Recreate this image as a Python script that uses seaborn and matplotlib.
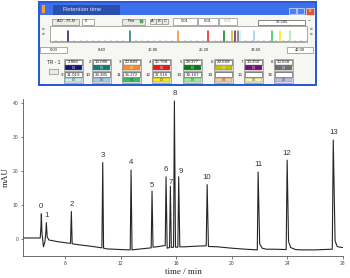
import pandas as pd
import matplotlib
matplotlib.use('Agg')
import matplotlib.pyplot as plt
import seaborn as sns
from matplotlib.patches import Rectangle

# chromatogram trace: time (min) and signal (mAU)
time_min = [5.00, 6.22, 6.27, 6.30, 6.34, 6.45, 6.55, 6.62, 6.66, 6.72, 6.85, 7.50, 8.40,
            8.46, 8.52, 9.00, 10.00, 10.66, 10.72, 10.78, 11.00, 12.00, 12.70, 12.76,
            12.83, 13.50, 14.21, 14.27, 14.34, 14.60, 15.22, 15.28, 15.36, 15.53, 15.59,
            15.66, 15.82, 15.88, 15.96, 16.13, 16.19, 16.27, 16.60, 17.50, 18.17, 18.24,
            18.33, 19.00, 20.00, 21.00, 21.85, 21.91, 22.02, 22.20, 22.50, 23.00, 23.93,
            24.00, 24.10, 24.25, 24.60, 25.00, 26.00, 27.25, 27.32, 27.45, 27.60, 27.80,
            28.00]
signal_mau = [0.2, 0.2, 3.5, 7.3, 2.0, -2.4, -1.0, 1.5, 4.7, 0.5, -0.4, -0.9, -1.4,
              8.0, -1.5, -1.8, -2.3, -2.7, 22.4, -2.8, -3.0, -3.2, -3.3, 20.2,
              -3.3, -3.0, -2.7, 14.0, -2.5, -2.4, -2.0, 18.2, -2.8, -2.6, 15.4,
              -2.6, -2.5, 40.5, -2.5, -2.5, 18.2, -2.4, -2.4, -2.2, -2.1, 15.9,
              -2.3, -2.4, -2.8, -3.1, -3.3, 19.6, -1.5, -2.8, -3.1, -3.1, -3.2,
              23.1, -0.8, -2.6, -3.2, -3.3, -3.3, -3.1, 29.0, -0.6, -2.3, -2.5,
              -2.6]

peak_ids = ['0', '1', '2', '3', '4', '5', '6', '7', '8', '9', '10', '11', '12', '13']
peak_times = [6.30, 6.66, 8.46, 10.72, 12.76, 14.27, 15.28, 15.59, 15.88, 16.19,
              18.24, 21.91, 24.00, 27.32]
peak_heights = [7.3, 4.7, 8.0, 22.4, 20.2, 14.0, 18.2, 15.4, 40.5, 18.2, 15.9, 19.6,
                23.1, 29.0]

x_ticks = [8, 12, 16, 20, 24, 28]
y_ticks = [0, 10, 20, 30, 40]

# retention time panel
tr_numbers = [str(i) for i in range(1, 17)]
tr_values = ['2.884', '13.086', '20.849', '25.768', '28.377', '29.668', '30.250', '30.658',
             '31.019', '33.385', '36.272', '37.516', '39.167', '', '', '']
tr_colors = ['#14147a', '#0e7c7c', '#ff8c1a', '#e81818', '#087a12', '#c4c000', '#7a0a7a',
             '#6e6e6e', '#bff0f4', '#9ccdf4', '#2ec45a', '#f4ee00', '#96f096', '#f8c898',
             '#f8f4a0', '#bcbcf0']
scale_values = [0.0, 8.4, 16.8, 25.2, 33.6, 42.0]

sns.set_style('ticks')
plt.rcParams['font.family'] = ['Liberation Sans', 'DejaVu Sans']

fig = plt.figure(figsize=(3.5, 2.78), dpi=100)

# ---------- screenshot-like panel drawn in pixel coordinates ----------
ui = fig.add_axes([0, 0, 1, 1])
ui.set_xlim(0, 350)
ui.set_ylim(278, 0)
ui.axis('off')


def box(x, y, w, h, fc='white', ec='#8a8a8a', lw=0.5, z=2):
    ui.add_patch(Rectangle((x, y), w, h, facecolor=fc, edgecolor=ec, linewidth=lw, zorder=z))


def txt(x, y, s, size=3.0, color='#222222', ha='center', **kw):
    ui.text(x, y, s, fontsize=size, color=color, ha=ha, va='center', zorder=5, **kw)


box(39, 2, 277, 83, fc='#f6f6f2', ec='#2456d8', lw=1.4, z=1)
box(40, 2.5, 275, 12.5, fc='#3d70ea', ec='none', lw=0)
box(53, 4.5, 67, 10.5, fc='#2b4fae', ec='none', lw=0)
txt(82, 9.7, 'Retention time', size=4.2, color='#dfe6f5')
box(42, 5, 3, 8, fc='#f2a23a', ec='none', lw=0)
box(289, 8, 7, 6, fc='#4a82f0', ec='white', lw=0.4)
box(297, 8, 7, 6, fc='#4a82f0', ec='white', lw=0.4)
box(306, 7.5, 8, 7, fc='#e0562e', ec='white', lw=0.4)
txt(310, 11, 'x', size=3.5, color='white')

box(52, 18.5, 27, 6, fc='#ecebe4')
txt(65.5, 21.5, 'AD - PLN')
box(82, 18.5, 12, 6)
txt(86, 21.5, '0')
box(122, 18.5, 23, 6, fc='#ecebe4')
txt(131, 21.5, 'Plot')
box(139.5, 19.8, 3.4, 3.4, fc='#3cc43c', ec='#666666', lw=0.3)
for i, s in enumerate(['A', 'B', 'C']):
    box(150 + 6 * i, 19, 5.5, 5, fc='#ecebe4')
    txt(152.75 + 6 * i, 21.5, s, size=2.8)
for bx, bw, c in [(173, 24, '#222222'), (198, 20, '#222222'), (219, 18, '#b0b0b0')]:
    box(bx, 18, bw, 7)
    txt(bx + bw / 2, 21.5, '0.01', color=c)
box(258, 19.5, 47, 5.5, ec='#555555')
txt(281.5, 22.2, '22.545')
txt(309.5, 20.5, '\u2013', size=3.5)

# retention time strip
strip_x0, strip_x1 = 50, 307
box(strip_x0, 26, strip_x1 - strip_x0, 16, ec='#8a8a8a')
ui.plot([strip_x0 + 1, strip_x1 - 1], [40.5, 40.5], color='#666666', lw=0.4, zorder=3)
for k in range(43):
    xk = strip_x0 + k / 42 * (strip_x1 - strip_x0)
    ui.plot([xk, xk], [39.5, 40.5], color='#666666', lw=0.3, zorder=3)
for v, c in zip(tr_values, tr_colors):
    if v:
        xv = strip_x0 + float(v) / 42 * (strip_x1 - strip_x0)
        ui.plot([xv, xv], [31, 40.5], color=c, lw=1.1, zorder=4)
txt(43.5, 28, '\u00bb', size=3.5)
txt(43.5, 33.5, '\u00ab', size=3.5)
txt(311.5, 28, '\u00ab', size=3.5)
txt(311.5, 33.5, '\u00bb', size=3.5)

for v in scale_values:
    xv = strip_x0 + v / 42 * (strip_x1 - strip_x0)
    if v == 0:
        box(40, 46.5, 27, 6.5)
        txt(53.5, 49.7, '%.2f' % v)
    elif v == 42:
        box(287, 46.5, 26, 6.5)
        txt(300, 49.7, '%.2f' % v)
    else:
        txt(xv, 49.7, '%.2f' % v)

# TR boxes
txt(54, 62, 'TR - 1', size=3.4)
box(49, 69, 9, 4.5, fc='#ecebe4')
box_x = [64, 92, 122, 152, 183, 214, 244, 274]
for i, (n, v, c) in enumerate(zip(tr_numbers, tr_values, tr_colors)):
    row, col = divmod(i, 8)
    bx = box_x[col]
    by = 59 + row * 12.5
    box(bx, by, 19, 11.5, fc='#f0f0ec')
    box(bx + 1, by + 0.6, 17, 5, ec='#444444', lw=0.4)
    box(bx + 1, by + 6.4, 17, 4.3, fc=c, ec='#777777', lw=0.3)
    txt(bx + 9.5, by + 3.1, v, size=3.2)
    txt(bx + 9.5, by + 8.6, '0.0', size=2.2, color='white' if row == 0 else '#333333')
    if i > 0:
        txt(bx - 1, by + 3.1, n, size=3.2, ha='right')

# ---------- chromatogram ----------
ax = fig.add_axes([23.3 / 350, 22 / 278, 319.4 / 350, 157.4 / 278])
ax.patch.set_alpha(0)
df = pd.DataFrame({'time': time_min, 'signal': signal_mau})
sns.lineplot(data=df, x='time', y='signal', sort=False, estimator=None,
             color='#262626', lw=0.8, ax=ax)

nudge = {'7': (0, 0.5), '9': (1.2, 1.5), '5': (0, 1.8), '1': (0.5, 3)}
for pid, t, h in zip(peak_ids, peak_times, peak_heights):
    dx, dy = nudge.get(pid, (0, 2.6))
    ax.annotate(pid, (t, h), xytext=(dx, dy), textcoords='offset points',
                ha='center', va='bottom', fontsize=5.6, color='#333333')

ax.set_xlim(5, 28)
ax.set_ylim(-5.1, 41.2)
ax.set_xticks(x_ticks)
ax.set_yticks(y_ticks)
ax.tick_params(labelsize=3.6, length=1.8, width=0.5, pad=1.5, colors='#444444')
ax.set_xlabel('time / min', fontsize=6.5, family='Liberation Serif', labelpad=2)
ax.set_ylabel('mAU', fontsize=6.5, family='Liberation Serif', labelpad=2)
for s in ['left', 'bottom']:
    ax.spines[s].set_linewidth(0.6)
    ax.spines[s].set_color('#555555')
sns.despine(ax=ax)

fig.savefig('out.png', dpi=100)
